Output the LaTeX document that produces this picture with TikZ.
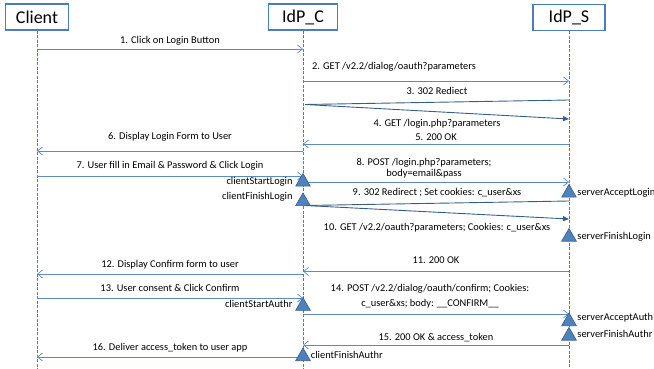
\documentclass[tikz,border=0pt]{standalone}
\usepackage{fontspec}
\setmainfont{Carlito}
\usetikzlibrary{arrows.meta,positioning,shapes.geometric}

\definecolor{boxblue}{HTML}{4A7EBB}
\definecolor{msgblue}{HTML}{5B8AC6}
\definecolor{darkblue}{HTML}{385D8A}
\definecolor{trifill}{HTML}{4F81BD}

\tikzset{
  actor/.style={draw=boxblue, line width=1.5pt, fill=white, inner sep=0pt,
    minimum height=26pt, font=\fontsize{18}{20}\selectfont},
  lifeline/.style={draw=boxblue, line width=0.8pt, dash pattern=on 3pt off 1.5pt},
  msg/.style={draw=msgblue, line width=0.7pt, -{Straight Barb[length=5pt,width=8pt]}},
  redir/.style={draw=darkblue, line width=0.9pt},
  redirto/.style={redir, -{Triangle[length=6pt,width=5pt]}},
  lbl/.style={inner sep=0pt, align=center, font=\fontsize{10.4}{12.5}\selectfont},
  trig/.style={regular polygon, regular polygon sides=3, draw=darkblue, fill=trifill,
    line width=0.6pt, minimum size=17pt, inner sep=0pt, anchor=south},
}

\begin{document}
\begin{tikzpicture}[x=1pt, y=-1pt]
  \useasboundingbox (0,0) rectangle (654,369);

  % lifelines
  \coordinate (bottom) at (0,369);
  \node[actor, minimum width=63pt] (client) at (37,17) {Client};
  \node[actor, minimum width=69pt] (idpc) at (303,17) {IdP\_C};
  \node[actor, minimum width=72pt] (idps) at (569,17.5) {IdP\_S};

  \draw[lifeline] (client) -- (client |- bottom);
  \draw[lifeline] (idpc) -- (idpc |- bottom);
  \draw[lifeline] (idps) -- (idps |- bottom);

  % message heights
  \coordinate (m1) at (0,49);
  \coordinate (m2) at (0,81);
  \coordinate (m3) at (0,100);
  \coordinate (r1) at (305,104.5);
  \coordinate (m4) at (0,119);
  \coordinate (m5) at (0,144);
  \coordinate (m6) at (0,151);
  \coordinate (m7) at (0,176);
  \coordinate (m8) at (0,182);
  \coordinate (m9) at (0,201);
  \coordinate (r2) at (305,205.5);
  \coordinate (m10) at (0,219);
  \coordinate (m11) at (0,271.5);
  \coordinate (m12) at (0,274);
  \coordinate (m13) at (0,298);
  \coordinate (m14) at (0,314);
  \coordinate (m15) at (0,345);
  \coordinate (m16) at (0,357);

  % login
  \draw[msg] (client |- m1) -- node[lbl, yshift=8pt] (l1) {1. Click on Login Button} (idpc |- m1);
  \draw[msg] (idpc |- m2) -- node[lbl, xshift=-42pt, yshift=14.5pt] (l2) {2. GET /v2.2/dialog/oauth?parameters} (idps |- m2);
  \draw[redir] (idps |- m3) -- node[lbl, yshift=11pt] (l3) {3. 302 Rediect} (r1);
  \draw[redirto] (r1) -- node[lbl, yshift=-12pt] (l4) {4. GET /login.php?parameters} (idps |- m4);
  \draw[msg] (idps |- m5) -- node[lbl, yshift=7pt] (l5) {5. 200 OK} (idpc |- m5);
  \draw[msg] (idpc |- m6) -- node[lbl, yshift=14pt] (l6) {6. Display Login Form to User} (client |- m6);
  \draw[msg] (client |- m7) -- node[lbl, yshift=10.7pt] (l7) {7. User fill in Email \& Password \& Click Login} (idpc |- m7);
  \draw[msg] (idpc |- m8) -- node[lbl, xshift=-12pt, yshift=14pt] (l8) {8. POST /login.php?parameters;\\[-2pt] body=email\&pass} (idps |- m8);
  \draw[redir] (idps |- m9) -- node[lbl, yshift=11pt] (l9) {9. 302 Redirect ; Set cookies: c\_user\&xs} (r2);
  \draw[redirto] (r2) -- node[lbl, yshift=-15pt] (l10) {10. GET /v2.2/oauth?parameters; Cookies: c\_user\&xs} (idps |- m10);

  % authorization
  \draw[msg] (idps |- m11) -- node[lbl, yshift=11pt] (l11) {11. 200 OK} (idpc |- m11);
  \draw[msg] (idpc |- m12) -- node[lbl, yshift=9.7pt] (l12) {12. Display Confirm form to user} (client |- m12);
  \draw[msg] (client |- m13) -- node[lbl, yshift=10.3pt] (l13) {13. User consent \& Click Confirm} (idpc |- m13);
  \draw[msg] (idpc |- m14) -- node[lbl, xshift=-6pt, yshift=18pt] (l14) {14. POST /v2.2/dialog/oauth/confirm; Cookies:\\[2.5pt] c\_user\&xs; body: \_\_CONFIRM\_\_} (idps |- m14);
  \draw[msg] (idps |- m15) -- node[lbl, yshift=7pt] (l15) {15. 200 OK \& access\_token} (idpc |- m15);
  \draw[msg] (idpc |- m16) -- node[lbl, yshift=9.5pt] (l16) {16. Deliver access\_token to user app} (client |- m16);

  % timing points
  \node[trig] (csl) at (303,186.5) {};
  \node[trig] (cfl) at (303,206) {};
  \node[trig] (sal) at (569,197.5) {};
  \node[trig] (sfl) at (569,241.5) {};
  \node[trig] (csa) at (303,310.7) {};
  \node[trig] (saa) at (569,326) {};
  \node[trig] (sfa) at (569,340.5) {};
  \node[trig] (cfa) at (303,361) {};

  \node[lbl, left=5pt of csl] (csl-t) {clientStartLogin};
  \node[lbl, left=5pt of cfl, yshift=5pt] (cfl-t) {clientFinishLogin};
  \node[lbl, right=3pt of sal] (sal-t) {serverAcceptLogin};
  \node[lbl, right=3pt of sfl] (sfl-t) {serverFinishLogin};
  \node[lbl, left=5pt of csa, yshift=2.4pt] (csa-t) {clientStartAuthr};
  \node[lbl, right=3pt of saa, yshift=4pt] (saa-t) {serverAcceptAuth};
  \node[lbl, right=3pt of sfa, yshift=2pt] (sfa-t) {serverFinishAuthr};
  \node[lbl, right=2.5pt of cfa, yshift=2pt] (cfa-t) {clientFinishAuthr};
\end{tikzpicture}
\end{document}
